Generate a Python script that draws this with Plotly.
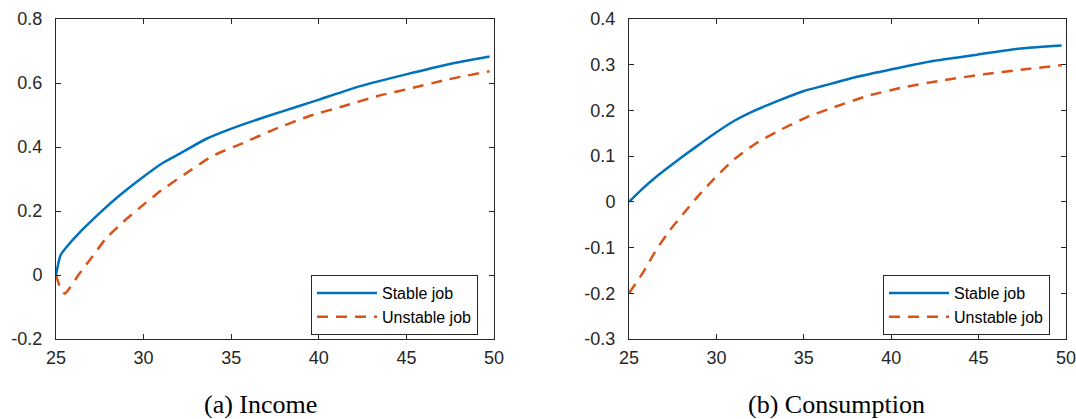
import plotly.graph_objects as go

# ---------------- data ----------------
age_inc_stable = [25.0, 25.26, 25.69, 26.48, 27.66, 28.64, 29.82, 31.0, 32.19, 33.56, 34.94,
                  37.1, 38.88, 40.06, 42.42, 44.98, 47.34, 49.75]
inc_stable = [0.0, 0.062, 0.093, 0.14, 0.202, 0.249, 0.30, 0.347, 0.383, 0.425, 0.456,
              0.497, 0.528, 0.549, 0.591, 0.627, 0.658, 0.683]

age_inc_unstable = [25.0, 25.25, 25.5, 26.28, 27.07, 27.85, 28.84, 29.82, 31.0, 32.38, 33.96,
                    35.53, 37.5, 39.47, 41.44, 43.41, 45.39, 47.36, 49.75]
inc_unstable = [0.0, -0.04, -0.058, 0.0, 0.057, 0.114, 0.166, 0.212, 0.264, 0.316, 0.373,
                0.409, 0.456, 0.497, 0.528, 0.56, 0.585, 0.611, 0.637]

age_con_stable = [25.0, 25.78, 26.56, 27.54, 28.71, 29.88, 31.05, 32.03, 33.59, 34.96, 36.13,
                  37.89, 40.04, 42.38, 44.92, 47.27, 49.75]
con_stable = [0.0, 0.029, 0.055, 0.084, 0.117, 0.149, 0.178, 0.197, 0.222, 0.242, 0.254,
              0.272, 0.290, 0.308, 0.322, 0.335, 0.342]

age_con_unstable = [25.0, 25.78, 26.56, 27.34, 28.13, 28.91, 29.88, 31.05, 32.23, 33.59, 35.16,
                    36.72, 38.67, 40.63, 42.97, 45.31, 47.66, 49.75]
con_unstable = [-0.2, -0.156, -0.105, -0.062, -0.025, 0.011, 0.051, 0.094, 0.127, 0.156, 0.185,
                0.207, 0.232, 0.25, 0.266, 0.279, 0.290, 0.299]

x_ticks = [25, 30, 35, 40, 45, 50]
inc_ticks = [-0.2, 0, 0.2, 0.4, 0.6, 0.8]
inc_tick_text = ["-0.2", "0", "0.2", "0.4", "0.6", "0.8"]
con_ticks = [-0.3, -0.2, -0.1, 0, 0.1, 0.2, 0.3, 0.4]
con_tick_text = ["-0.3", "-0.2", "-0.1", "0", "0.1", "0.2", "0.3", "0.4"]

captions = ["(a) Income", "(b) Consumption"]
series_names = ["Stable job", "Unstable job"]

# ---------------- styling ----------------
W, H = 1076, 419
BLUE = "#0072BD"
ORANGE = "#D95319"
AX = "#262626"
SANS = "Liberation Sans, Arial, sans-serif"
SERIF = "Liberation Serif, Times New Roman, serif"
TICKSIZE = 18
LEGSIZE = 16

fig = go.Figure()

def line(color, dash=None):
    d = dict(color=color, width=2.5, shape="spline", smoothing=0.6)
    if dash:
        d["dash"] = dash
    return d

fig.add_trace(go.Scatter(x=age_inc_stable, y=inc_stable, mode="lines", name=series_names[0],
                         line=line(BLUE), xaxis="x", yaxis="y", legend="legend"))
fig.add_trace(go.Scatter(x=age_inc_unstable, y=inc_unstable, mode="lines", name=series_names[1],
                         line=line(ORANGE, "11px,8px"), xaxis="x", yaxis="y", legend="legend"))
fig.add_trace(go.Scatter(x=age_con_stable, y=con_stable, mode="lines", name=series_names[0],
                         line=line(BLUE), xaxis="x2", yaxis="y2", legend="legend2"))
fig.add_trace(go.Scatter(x=age_con_unstable, y=con_unstable, mode="lines", name=series_names[1],
                         line=line(ORANGE, "11px,8px"), xaxis="x2", yaxis="y2", legend="legend2"))

ydom = [(H - 339) / H, (H - 19) / H]
common_x = dict(range=[25, 50], tickvals=x_ticks, ticks="inside", ticklen=5, tickcolor=AX,
                showline=True, linecolor=AX, linewidth=1, mirror="ticks", showgrid=False,
                zeroline=False, ticklabelstandoff=2, ticklabeloverflow="allow",
                tickfont=dict(family=SANS, size=TICKSIZE, color=AX))
common_y = dict(ticks="inside", ticklen=5, tickcolor=AX, showline=True, linecolor=AX, linewidth=1,
                mirror="ticks", showgrid=False, zeroline=False, ticklabelstandoff=9,
                ticklabeloverflow="allow",
                tickfont=dict(family=SANS, size=TICKSIZE, color=AX), domain=ydom)

leg_common = dict(xanchor="right", yanchor="top", bgcolor="white", bordercolor=AX, borderwidth=1,
                  font=dict(family=SANS, size=LEGSIZE, color="black"), itemwidth=60,
                  tracegroupgap=0)

fig.update_layout(
    width=W, height=H,
    margin=dict(l=0, r=0, t=0, b=0, autoexpand=False),
    paper_bgcolor="white", plot_bgcolor="white",
    xaxis=dict(domain=[56 / W, 494 / W], anchor="y", **common_x),
    yaxis=dict(range=[-0.2, 0.8], tickvals=inc_ticks, ticktext=inc_tick_text, anchor="x", **common_y),
    xaxis2=dict(domain=[629 / W, 1066 / W], anchor="y2", **common_x),
    yaxis2=dict(range=[-0.3, 0.4], tickvals=con_ticks, ticktext=con_tick_text, anchor="x2", **common_y),
    legend=dict(x=478 / W, y=(H - 275) / H, **leg_common),
    legend2=dict(x=1050 / W, y=(H - 275) / H, **leg_common),
    showlegend=True,
)

fig.add_annotation(x=260 / W, y=(H - 404) / H, xref="paper", yref="paper",
                   text=captions[0], showarrow=False, xanchor="center", yanchor="middle",
                   font=dict(family=SERIF, size=26, color="black"))
fig.add_annotation(x=836 / W, y=(H - 404) / H, xref="paper", yref="paper",
                   text=captions[1], showarrow=False, xanchor="center", yanchor="middle",
                   font=dict(family=SERIF, size=26, color="black"))

fig.write_html("out.html", config={"displayModeBar": False},
               post_script="document.body.style.margin='0';document.body.style.overflow='hidden';")
